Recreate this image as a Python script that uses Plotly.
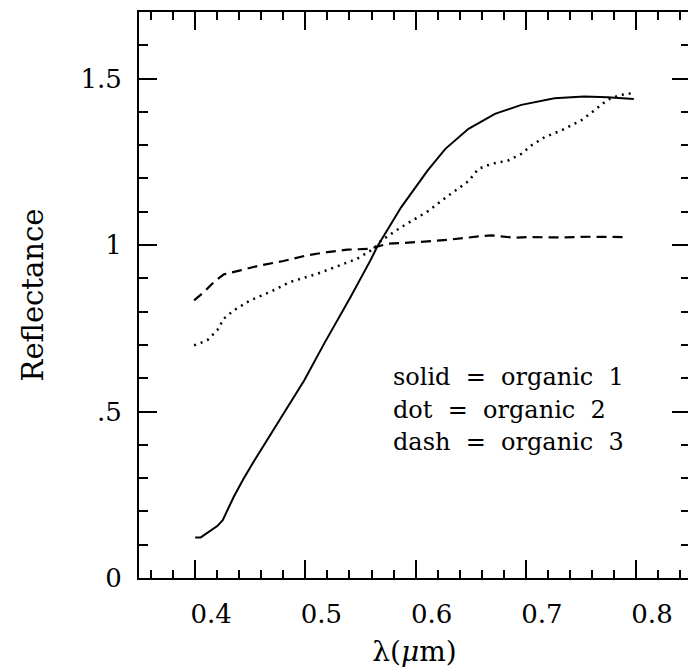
import plotly.graph_objects as go

# ---- data ----
wl_solid = [0.400, 0.405, 0.420, 0.425, 0.435, 0.444, 0.453, 0.468, 0.479, 0.489, 0.499,
            0.517, 0.541, 0.559, 0.565, 0.587, 0.604, 0.611, 0.627, 0.648, 0.672, 0.696,
            0.726, 0.753, 0.774, 0.798]
r_solid = [0.122, 0.122, 0.156, 0.174, 0.244, 0.299, 0.349, 0.429, 0.484, 0.539, 0.594,
           0.704, 0.844, 0.954, 0.994, 1.114, 1.194, 1.224, 1.289, 1.349, 1.394, 1.421,
           1.441, 1.446, 1.444, 1.439]

wl_dot = [0.399, 0.411, 0.420, 0.426, 0.435, 0.450, 0.468, 0.486, 0.511, 0.532, 0.547,
          0.562, 0.569, 0.587, 0.611, 0.630, 0.648, 0.657, 0.669, 0.684, 0.696, 0.705,
          0.717, 0.732, 0.750, 0.762, 0.774, 0.786, 0.798]
r_dot = [0.699, 0.714, 0.744, 0.779, 0.804, 0.834, 0.859, 0.889, 0.914, 0.939, 0.959,
         0.989, 1.014, 1.054, 1.101, 1.149, 1.192, 1.229, 1.244, 1.254, 1.274, 1.299,
         1.324, 1.344, 1.374, 1.404, 1.436, 1.451, 1.457]

wl_dash = [0.399, 0.408, 0.417, 0.426, 0.441, 0.459, 0.480, 0.501, 0.520, 0.538, 0.558,
           0.575, 0.602, 0.630, 0.657, 0.669, 0.690, 0.702, 0.730, 0.760, 0.792]
r_dash = [0.834, 0.859, 0.889, 0.912, 0.924, 0.939, 0.952, 0.969, 0.979, 0.986, 0.989,
          1.004, 1.009, 1.016, 1.026, 1.029, 1.022, 1.024, 1.023, 1.025, 1.024]

x_tickvals = [0.4, 0.5, 0.6, 0.7, 0.8]
x_ticktext = ["0.4", "0.5", "0.6", "0.7", "0.8"]
y_tickvals = [0, 0.5, 1, 1.5]
y_ticktext = ["0", ".5", "1", "1.5"]

legend_lines = ["solid = organic 1", "dot = organic 2", "dash = organic 3"]

FONT = "DejaVu Serif"
BLACK = "#000000"
WIDE_SPACE = "\u00a0 "

fig = go.Figure()
fig.add_trace(go.Scatter(x=wl_solid, y=r_solid, mode="lines",
                         line=dict(color=BLACK, width=2), showlegend=False))
fig.add_trace(go.Scatter(x=wl_dot, y=r_dot, mode="lines",
                         line=dict(color=BLACK, width=2.5, dash="2px,5px"), showlegend=False))
fig.add_trace(go.Scatter(x=wl_dash, y=r_dash, mode="lines",
                         line=dict(color=BLACK, width=2.2, dash="10px,6px"), showlegend=False))

legend_y = [0.603, 0.505, 0.407]
for txt, yy in zip(legend_lines, legend_y):
    fig.add_annotation(x=0.578, y=yy, xref="x", yref="y",
                       text=txt.replace(" ", WIDE_SPACE), showarrow=False,
                       xanchor="left", yanchor="middle",
                       font=dict(family=FONT, size=24, color=BLACK))

fig.update_layout(
    width=694, height=672,
    margin=dict(l=139, r=2, t=12, b=94),
    paper_bgcolor="white", plot_bgcolor="white",
    font=dict(family=FONT, color=BLACK),
    xaxis=dict(
        range=[0.349, 0.849], showgrid=False, zeroline=False,
        showline=True, linecolor=BLACK, linewidth=2, mirror="ticks",
        ticks="inside", ticklen=18, tickwidth=1.5, tickcolor=BLACK,
        tickvals=x_tickvals, ticktext=x_ticktext,
        ticklabelshift=16, ticklabelstandoff=12,
        tickfont=dict(family=FONT, size=26, color=BLACK),
        minor=dict(dtick=0.02, tick0=0.4, ticks="inside", ticklen=8,
                   tickwidth=1.5, tickcolor=BLACK, showgrid=False),
        title=dict(text="λ(<i>μ</i>m)", font=dict(family=FONT, size=28, color=BLACK),
                   standoff=13),
    ),
    yaxis=dict(
        range=[0, 1.7], showgrid=False, zeroline=False,
        showline=True, linecolor=BLACK, linewidth=2, mirror="ticks",
        ticks="inside", ticklen=18, tickwidth=1.5, tickcolor=BLACK,
        tickvals=y_tickvals, ticktext=y_ticktext,
        ticklabelstandoff=10,
        tickfont=dict(family=FONT, size=26, color=BLACK),
        minor=dict(dtick=0.1, tick0=0, ticks="inside", ticklen=9,
                   tickwidth=1.5, tickcolor=BLACK, showgrid=False),
        title=dict(text="Reflectance", font=dict(family=FONT, size=29, color=BLACK),
                   standoff=28),
    ),
)

fig.write_html("out.html",
               post_script="document.documentElement.style.overflow='hidden';"
                           "document.body.style.overflow='hidden';")
